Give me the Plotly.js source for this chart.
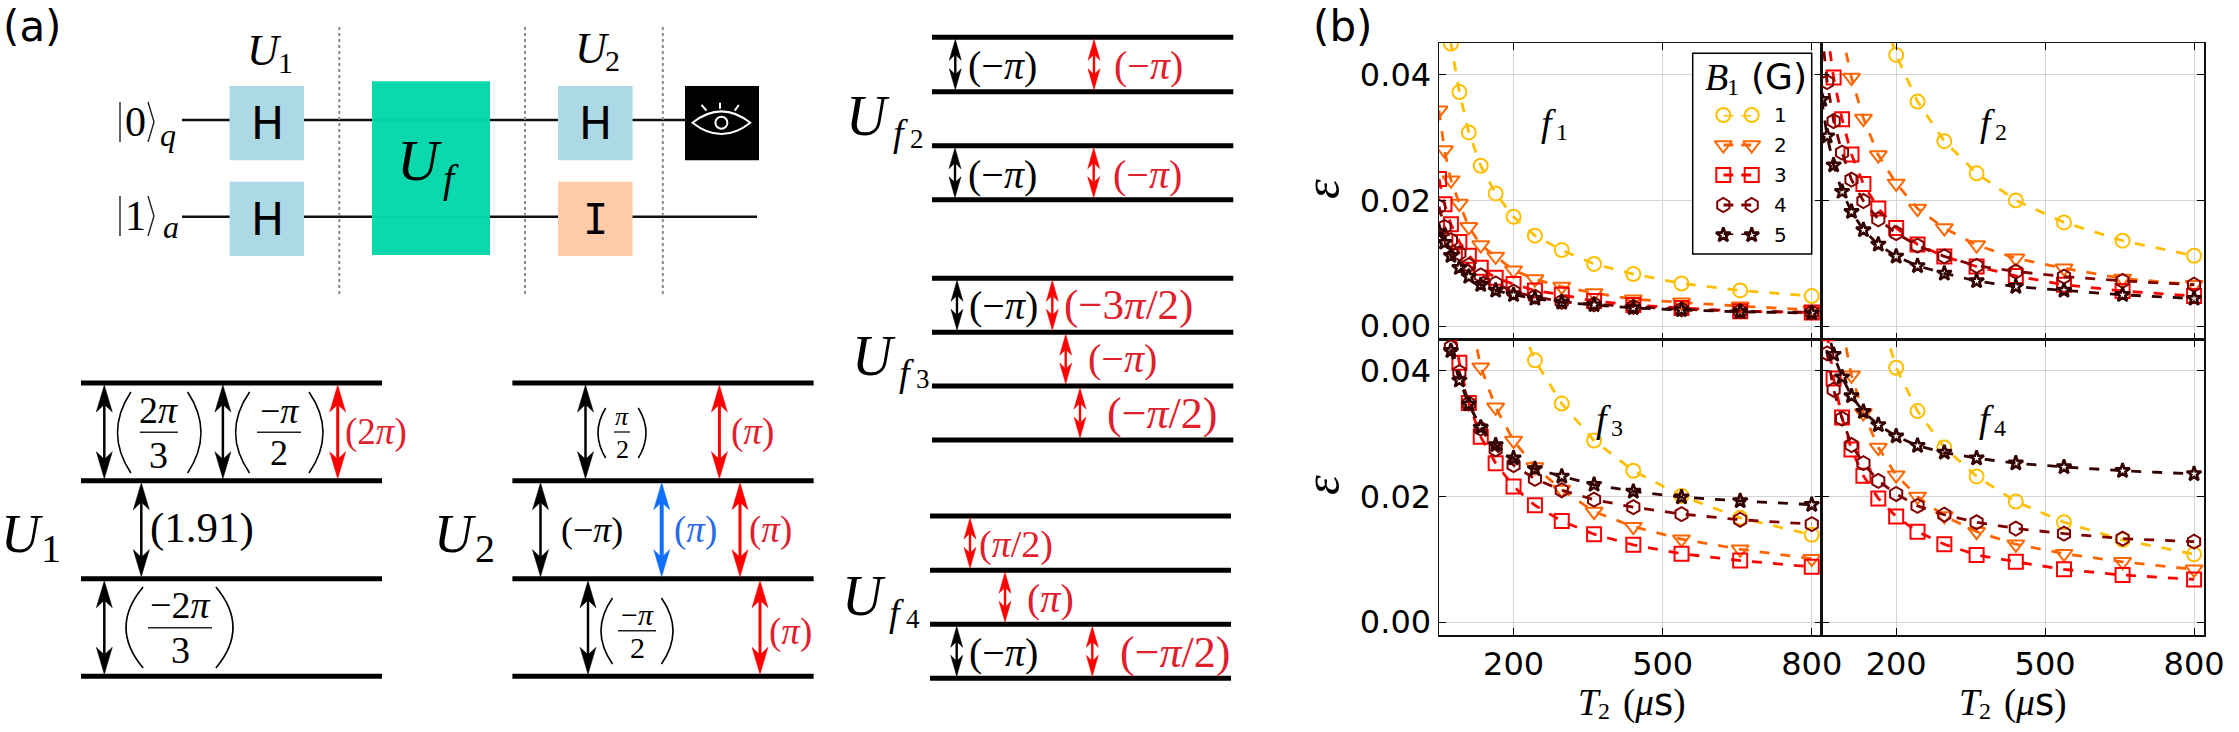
<!DOCTYPE html>
<html>
<head>
<meta charset="utf-8">
<script src="https://cdn.plot.ly/plotly-3.0.1.min.js"></script>
<style>html,body{margin:0;padding:0;background:#fff}</style>
</head>
<body>
<div id="myDiv" style="width:2239px;height:732px"></div>
<script>
// T2 sweep, shared by all four panels
var T2 = [50, 61, 74, 91, 110, 134, 164, 200, 243, 297, 362, 441, 538, 656, 800];

// error per function f and field B1 (null = far above the axes)
var f1B1 = [.072, .056, .0449, .0372, .0308, .0255, .0211, .0174, .0144, .0121, .0099, .0083, .0068, .0057, .0048];
var f1B2 = [.0343, .028, .0232, .0195, .0158, .0129, .0111, .0089, .0075, .0063, .0053, .0043, .0038, .0032, .0026];
var f1B3 = [.0234, .0194, .0162, .0134, .0112, .0093, .0077, .0067, .0057, .005, .004, .0034, .0029, .0024, .0022];
var f1B4 = [.019, .0158, .0137, .0116, .0097, .0081, .0068, .0055, .0047, .0039, .0035, .0031, .0027, .0024, .0022];
var f1B5 = [.015, .0133, .0112, .0093, .0079, .0066, .0057, .005, .0044, .0038, .0034, .0029, .0026, .0023, .0021];

var f2B1 = [null, null, null, null, null, null, .052, .0431, .0357, .0294, .0243, .02, .0165, .0136, .0112];
var f2B2 = [null, null, .06, .0465, .0395, .033, .0272, .0227, .0187, .0156, .0129, .0108, .0092, .0076, .0066];
var f2B3 = [null, .047, .0395, .0329, .0273, .0226, .0187, .0156, .013, .0111, .0095, .008, .0066, .0056, .0048];
var f2B4 = [.047, .0388, .0326, .0276, .0233, .0199, .017, .0148, .0128, .0111, .0096, .0087, .0079, .0072, .0066];
var f2B5 = [.036, .0302, .0256, .0214, .0182, .0153, .013, .0111, .0096, .0084, .0072, .0063, .0057, .005, .0044];

var f3B1 = [null, null, null, null, null, null, null, .05, .0417, .0348, .0289, .0241, .0201, .0166, .0139];
var f3B2 = [null, null, null, null, .05, .0406, .0342, .0289, .0247, .0211, .0176, .0152, .0132, .0116, .0101];
var f3B3 = [null, null, .049, .0413, .0349, .0295, .0253, .0216, .0186, .0161, .014, .0123, .0109, .0098, .0088];
var f3B4 = [null, .05, .0438, .0398, .0348, .0308, .0275, .025, .0228, .021, .0195, .0183, .0172, .0163, .0156];
var f3B5 = [null, .05, .0432, .0385, .0347, .031, .0282, .0261, .0244, .0232, .0219, .0208, .0199, .0193, .0187];

var f4B1 = [null, null, null, null, null, null, .05, .0405, .0336, .0278, .0232, .0192, .0159, .0131, .0108];
var f4B2 = [null, null, null, .047, .0393, .0333, .0278, .0234, .02, .0169, .0144, .0124, .0109, .0096, .0084];
var f4B3 = [null, .046, .0388, .0326, .0275, .0233, .0197, .0168, .0144, .0124, .0107, .0096, .0084, .0075, .0068];
var f4B4 = [.05, .0428, .037, .0324, .0282, .0253, .0225, .0204, .0185, .0171, .0159, .0149, .0141, .0133, .0128];
var f4B5 = [.051, .047, .0426, .039, .036, .0335, .0314, .0296, .0281, .027, .0261, .0253, .0247, .0241, .0236];

var fieldLabels = ['1', '2', '3', '4', '5'];
var fieldColors = ['#FFBF00', '#FF6600', '#FF0000', '#800000', '#330000'];
var fieldSymbols = ['circle-open', 'triangle-down-open', 'square-open', 'hexagon-open', 'star-open'];
var fieldSizes = [14, 15, 14, 14, 11];
var panelLabels = ['1', '2', '3', '4'];
var xTicks = [200, 500, 800];
var yTicks = [0, .02, .04];
var yTickText = ['0.00', '0.02', '0.04'];

var W = 2239, H = 732;
var SERIF = 'Liberation Serif';
var SANS = 'DejaVu Sans';
var TEXTRED = '#E0202C';
var data = [], shapes = [], annotations = [];

function addPanel(n, rows) {
  for (var i = 0; i < rows.length; i++) {
    data.push({
      x: T2, y: rows[i], xaxis: 'x' + n, yaxis: 'y' + n,
      type: 'scatter', mode: 'lines+markers', showlegend: false,
      line: {color: fieldColors[i], width: 2.8, dash: '10px,11px'},
      marker: {symbol: fieldSymbols[i], size: fieldSizes[i], color: fieldColors[i],
        line: {color: fieldColors[i], width: i == 4 ? 2.6 : 2}}
    });
  }
}
addPanel('', [f1B1, f1B2, f1B3, f1B4, f1B5]);
addPanel(2, [f2B1, f2B2, f2B3, f2B4, f2B5]);
addPanel(3, [f3B1, f3B2, f3B3, f3B4, f3B5]);
addPanel(4, [f4B1, f4B2, f4B3, f4B4, f4B5]);

// empty trace so the pixel axes for the schematics exist
data.push({x: [null], y: [null], xaxis: 'x5', yaxis: 'y5', type: 'scatter', showlegend: false});

// legend keys: matplotlib style, two points per row
for (var k = 0; k < fieldLabels.length; k++) {
  data.push({
    x: [0, 1], y: [k + 1, k + 1], xaxis: 'x6', yaxis: 'y6',
    type: 'scatter', mode: 'lines+markers', showlegend: false, cliponaxis: false,
    line: {color: fieldColors[k], width: 2.8, dash: '10px,8px'},
    marker: {symbol: fieldSymbols[k], size: fieldSizes[k], color: fieldColors[k],
      line: {color: fieldColors[k], width: k == 4 ? 2.6 : 2}}
  });
}

function xDom(a, b) { return [a / W, b / W]; }
function yDom(a, b) { return [1 - b / H, 1 - a / H]; }

function xAxis(a, b, showLabels) {
  return {
    domain: xDom(a, b), range: [50, 820], tickmode: 'array', tickvals: xTicks,
    ticks: 'inside', ticklen: 7, tickcolor: '#000', tickwidth: 1,
    showticklabels: showLabels, tickfont: {family: SANS, size: 32, color: '#000'},
    showgrid: true, gridcolor: '#d4d4d4', gridwidth: 1, zeroline: false,
    showline: true, linecolor: '#111', linewidth: 1.5, mirror: 'allticks'
  };
}
function yAxis(a, b, showLabels) {
  return {
    domain: yDom(a, b), range: [-.0021, .045], tickmode: 'array', tickvals: yTicks, ticktext: yTickText,
    ticks: 'inside', ticklen: 7, tickcolor: '#000', tickwidth: 1,
    showticklabels: showLabels, tickfont: {family: SANS, size: 32, color: '#000'},
    showgrid: true, gridcolor: '#d4d4d4', gridwidth: 1, zeroline: false,
    showline: true, linecolor: '#111', linewidth: 1.5, mirror: 'allticks'
  };
}

// helpers for the schematics, all in the page-pixel axes x5/y5
function label(x, y, text, size, color, family) {
  annotations.push({
    xref: 'x5', yref: 'y5', x: x, y: y, text: text, showarrow: false,
    xanchor: 'center', yanchor: 'middle',
    font: {family: family || SERIF, size: size, color: color || '#000'}
  });
}
function rect(x0, y0, x1, y1, fill, opacity) {
  shapes.push({type: 'rect', xref: 'x5', yref: 'y5', x0: x0, y0: y0, x1: x1, y1: y1,
    fillcolor: fill, opacity: opacity || 1, line: {width: 0}});
}
function seg(x0, y0, x1, y1, color, width, dash) {
  shapes.push({type: 'line', xref: 'x5', yref: 'y5', x0: x0, y0: y0, x1: x1, y1: y1,
    line: {color: color, width: width, dash: dash || 'solid'}});
}
function levels(x0, x1, ys) {
  ys.forEach(function(y) { seg(x0, y, x1, y, '#000', 5); });
}
function path(d, lineColor, width, fill) {
  shapes.push({type: 'path', xref: 'x5', yref: 'y5', path: d,
    fillcolor: fill || 'rgba(0,0,0,0)', line: {color: lineColor, width: width}});
}
function arrow(x, y0, y1, color, stem, hl, hw) {
  var c = hl * .72;
  seg(x, y0 + c, x, y1 - c, color, stem);
  path('M' + x + ',' + y0 + 'L' + (x + hw) + ',' + (y0 + hl) + 'L' + x + ',' + (y0 + c) + 'L' + (x - hw) + ',' + (y0 + hl) + 'Z', color, .5, color);
  path('M' + x + ',' + y1 + 'L' + (x + hw) + ',' + (y1 - hl) + 'L' + x + ',' + (y1 - c) + 'L' + (x - hw) + ',' + (y1 - hl) + 'Z', color, .5, color);
}
function tall(x, y0, y1, color, stem) { arrow(x, y0 + 2, y1 - 2, color, stem || 2.5, 27, 8); }
function small(x, y0, y1, color) { arrow(x, y0 + 2, y1 - 2, color, 2.4, 21, 6); }
function parens(xl, xr, y0, y1, color) {
  var m = (y0 + y1) / 2, b = (xr - xl) * .16;
  path('M' + (xl + b) + ',' + y0 + 'Q' + (xl - b) + ',' + m + ' ' + (xl + b) + ',' + y1, color || '#000', 1.6);
  path('M' + (xr - b) + ',' + y0 + 'Q' + (xr + b) + ',' + m + ' ' + (xr - b) + ',' + y1, color || '#000', 1.6);
}
function frac(cx, barY, half, numY, denY, num, den, size) {
  seg(cx - half, barY, cx + half, barY, '#222', 1.4);
  label(cx, numY, num, size);
  label(cx, denY, den, size);
}
// ket drawn as strokes so it keeps the tall thin shape of the original
function ket(x, y, digit, sub, subX, subY) {
  seg(x - 15, y - 20, x - 15, y + 20, '#222', 1.4);
  path('M' + (x + 13) + ',' + (y - 20) + 'L' + (x + 19) + ',' + y + 'L' + (x + 13) + ',' + (y + 20), '#222', 1.4);
  label(x, y, digit, 42);
  label(subX, subY, '<i>' + sub + '</i>', 32);
}
// big operator with a nested subscript, e.g. U_f2
function opSub(x, y, sub, subSub) {
  label(x, y, '<i>U</i>', 56);
  label(x + 32, y + 17, '<i>' + sub + '</i>', 38);
  label(x + 49, y + 23, subSub, 27);
}

var PI = '<i>\u03c0</i>';
var MINUS = '\u2212';

// ---- circuit ----
seg(182, 120, 685, 120, '#111', 2.4);
seg(182, 216.7, 757, 216.7, '#111', 2.4);
[339.3, 525, 662.8].forEach(function(x) { seg(x, 27, x, 297, '#888', 2, 'dot'); });
rect(229.6, 86, 304, 160.3, '#ADD8E6');
rect(229.6, 181.7, 304, 256, '#ADD8E6');
rect(372, 81.3, 490, 255, '#04D7AB', .97);
rect(558, 86, 632.6, 160.3, '#ADD8E6');
rect(558, 181.7, 632.6, 256, '#FFCBA9');
rect(685, 86, 759, 160.3, '#000');
label(267, 123, 'H', 44, '#000', SANS);
label(267, 219, 'H', 44, '#000', SANS);
label(595.5, 123, 'H', 44, '#000', SANS);
label(595.5, 219, 'I', 42, '#000', 'DejaVu Sans Mono');
label(420, 160, '<i>U</i>', 58);
label(451, 178, '<i>f</i>', 40);
label(264, 50, '<i>U</i>', 44);
label(285, 62, '1', 30);
label(592, 48, '<i>U</i>', 44);
label(612, 60, '2', 30);
ket(135, 122, '0', 'q', 168, 135);
ket(135, 216, '1', 'a', 171, 227);
label(32, 26, '(a)', 42, '#000', SANS);
label(1342, 26, '(b)', 42, '#000', SANS);
// eye in the read-out box
path('M692.5,122.7Q721.4,100 750.3,122.7Q721.4,145.4 692.5,122.7Z', '#fff', 2);
shapes.push({type: 'circle', xref: 'x5', yref: 'y5', x0: 715.4, y0: 116.7, x1: 727.4, y1: 128.7, line: {color: '#fff', width: 2}});
seg(701.5, 105, 706.6, 110.7, '#fff', 2);
seg(720, 102.7, 720, 108.7, '#fff', 2);
seg(738.8, 105, 734.7, 110.7, '#fff', 2);

// ---- U1 ----
var u1y = [383, 480.7, 578.7, 676.3];
levels(81, 382, u1y);
tall(104.3, u1y[0], u1y[1], '#000');
tall(222.9, u1y[0], u1y[1], '#000');
tall(337.7, u1y[0], u1y[1], '#FF0000', 3);
tall(141.3, u1y[1], u1y[2], '#000');
tall(104.3, u1y[2], u1y[3], '#000');
parens(117.5, 201, 392, 473);
frac(158.8, 432.3, 19, 410, 455, '2' + PI, '3', 38);
parens(235.6, 323, 392, 473);
frac(279, 432.3, 22, 411, 453, MINUS + PI, '2', 36);
label(376, 432, '(2' + PI + ')', 37, TEXTRED);
label(202, 528, '(1.91)', 43);
parens(126, 233, 587, 668);
frac(180, 627.7, 32, 605, 650, MINUS + '2' + PI, '3', 38);
label(22, 534, '<i>U</i>', 54);
label(51, 548, '1', 40);

// ---- U2 ----
levels(512.4, 813.6, u1y);
tall(585.5, u1y[0], u1y[1], '#000');
tall(719.4, u1y[0], u1y[1], '#FF0000', 3);
tall(540.5, u1y[1], u1y[2], '#000');
tall(661.7, u1y[1], u1y[2], '#0F6FFF', 4);
tall(740, u1y[1], u1y[2], '#FF0000', 3);
tall(588, u1y[2], u1y[3], '#000');
tall(760, u1y[2], u1y[3], '#FF0000', 3);
parens(598, 646, 408, 458);
frac(622, 432, 8, 416, 449, PI, '2', 26);
label(752, 432, '(' + PI + ')', 37, TEXTRED);
label(592, 530, '(' + MINUS + PI + ')', 36);
label(695, 530, '(' + PI + ')', 37, '#2A6BE8');
label(770, 530, '(' + PI + ')', 37, TEXTRED);
parens(601, 673, 598, 664);
frac(637, 630.7, 19, 614, 647, MINUS + PI, '2', 30);
label(790, 632, '(' + PI + ')', 37, TEXTRED);
label(455, 534, '<i>U</i>', 54);
label(485, 548, '2', 40);

// ---- U_f2 ----
levels(932, 1233.3, [37.3, 91.7, 145.7, 199.7]);
small(955.3, 37.3, 91.7, '#000');
small(1094, 37.3, 91.7, '#FF0000');
small(955, 145.7, 199.7, '#000');
small(1093.7, 145.7, 199.7, '#FF0000');
label(1002, 65, '(' + MINUS + PI + ')', 40);
label(1148, 65, '(' + MINUS + PI + ')', 40, TEXTRED);
label(1002, 174, '(' + MINUS + PI + ')', 40);
label(1147, 174, '(' + MINUS + PI + ')', 40, TEXTRED);
opSub(868, 116, 'f', '2');

// ---- U_f3 ----
levels(932, 1233.3, [278.3, 332.3, 386, 440]);
small(957, 278.3, 332.3, '#000');
small(1052.3, 278.3, 332.3, '#FF0000');
small(1065.7, 332.3, 386, '#FF0000');
small(1080, 386, 440, '#FF0000');
label(1003, 305, '(' + MINUS + PI + ')', 40);
label(1128.7, 305, '(' + MINUS + '3' + PI + '/2)', 43, TEXTRED);
label(1122, 358, '(' + MINUS + PI + ')', 40, TEXTRED);
label(1162, 413, '(' + MINUS + PI + '/2)', 44, TEXTRED);
opSub(874, 356, 'f', '3');

// ---- U_f4 ----
levels(930, 1231, [516, 570.3, 624.3, 678.3]);
small(970, 516, 570.3, '#FF0000');
small(1005, 570.3, 624.3, '#FF0000');
small(956.7, 624.3, 678.3, '#000');
small(1092.3, 624.3, 678.3, '#FF0000');
label(1016, 544, '(' + PI + '/2)', 38, TEXTRED);
label(1050, 598, '(' + PI + ')', 40, TEXTRED);
label(1003, 652, '(' + MINUS + PI + ')', 40);
label(1175, 652, '(' + MINUS + PI + '/2)', 44, TEXTRED);
opSub(864, 596, 'f', '4');

// ---- panel (b) text ----
var panelPos = [[1553, 123], [1992, 123], [1608, 419], [1991, 419]];
panelPos.forEach(function(p, i) {
  label(p[0] - 5, p[1], '<i>f</i>', 38);
  label(p[0] + 9, p[1] + 9, panelLabels[i], 24);
});
[[1632, 702], [2013, 702]].forEach(function(p) {
  label(p[0] - 43, p[1], '<i>T</i>', 37);
  label(p[0] - 28, p[1] + 9, '2', 24);
  label(p[0] + 22, p[1], '(<i>\u03bc</i><span style="font-family:DejaVu Sans">s</span>)', 37);
});
[[1322, 189], [1322, 485]].forEach(function(p) {
  annotations.push({xref: 'x5', yref: 'y5', x: p[0], y: p[1], text: '<i>\u03b5</i>', showarrow: false,
    textangle: -90, font: {family: SERIF, size: 50, color: '#000'}});
});

// legend frame and text
shapes.push({type: 'rect', xref: 'x5', yref: 'y5', layer: 'between', x0: 1692.7, y0: 53.3, x1: 1811.7, y1: 254,
  fillcolor: '#fff', line: {color: '#000', width: 1.5}});
label(1716, 77, '<i>B</i>', 38);
label(1733, 87, '1', 24);
label(1779, 76, '(G)', 36, '#000', SANS);
fieldLabels.forEach(function(t, i) { label(1780, 115 + i * 30, t, 20, '#000', SANS); });

var layout = {
  width: W, height: H, margin: {l: 0, r: 0, t: 0, b: 0},
  paper_bgcolor: '#fff', plot_bgcolor: 'rgba(0,0,0,0)', showlegend: false,
  xaxis: xAxis(1439, 1821.7, false), yaxis: yAxis(43, 339.5, true),
  xaxis2: xAxis(1821.7, 2204, false), yaxis2: yAxis(43, 339.5, false),
  xaxis3: xAxis(1439, 1821.7, true), yaxis3: yAxis(339.5, 635.3, true),
  xaxis4: xAxis(1821.7, 2204, true), yaxis4: yAxis(339.5, 635.3, false),
  xaxis5: {domain: [0, 1], range: [0, W], visible: false, fixedrange: true},
  yaxis5: {domain: [0, 1], range: [H, 0], visible: false, fixedrange: true},
  xaxis6: {domain: xDom(1723.3, 1751.7), range: [0, 1], visible: false, fixedrange: true},
  yaxis6: {domain: yDom(115, 235), range: [5, 1], visible: false, fixedrange: true},
  shapes: shapes, annotations: annotations
};
layout.yaxis2.anchor = 'x2';
layout.xaxis2.anchor = 'y2';
layout.xaxis3.anchor = 'y3';
layout.yaxis3.anchor = 'x3';
layout.xaxis4.anchor = 'y4';
layout.yaxis4.anchor = 'x4';
layout.xaxis5.anchor = 'y5';
layout.yaxis5.anchor = 'x5';
layout.xaxis6.anchor = 'y6';
layout.yaxis6.anchor = 'x6';

Plotly.newPlot('myDiv', data, layout, {staticPlot: true});
</script>
</body>
</html>
